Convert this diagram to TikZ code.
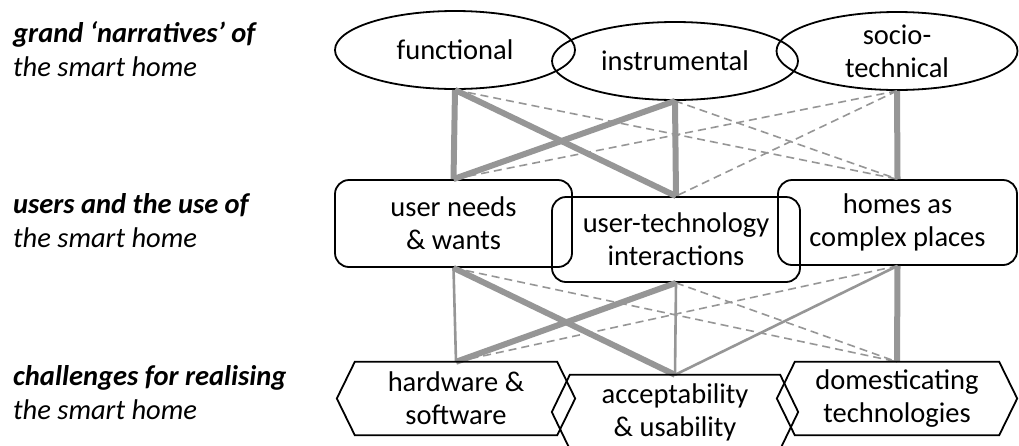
\documentclass[tikz,border=0pt]{standalone}
\usepackage{fontspec}
\setmainfont{Carlito}
\usetikzlibrary{shapes.geometric}
\definecolor{linkgray}{RGB}{150,150,150}
\newcommand\hexoutline[1]{\draw[outline] (#1.west) -- ([xshift=18pt]#1.north west) -- ([xshift=-18pt]#1.north east) -- (#1.east) -- ([xshift=-18pt]#1.south east) -- ([xshift=18pt]#1.south west) -- cycle;}
\begin{document}
\begin{tikzpicture}[x=1pt,y=-1pt,
  txt/.style={font=\fontsize{28.5}{33}\selectfont, align=center, inner sep=0pt},
  outline/.style={draw=black, line width=1.8pt},
  narr/.style={txt, ellipse, outline, minimum height=78pt},
  rbox/.style={txt, rectangle, rounded corners=14pt, outline},
  hexlabel/.style={txt, rectangle},
  side/.style={font=\fontsize{28.5}{33}\selectfont, anchor=base west, inner sep=0pt},
  strong/.style={draw=linkgray, line width=6pt},
  weak/.style={draw=linkgray, line width=2.6pt},
  loose/.style={draw=linkgray, line width=1.6pt, dash pattern=on 8pt off 5pt}
]
\useasboundingbox (0,0) rectangle (1019,445);

% left labels
\node[side] (l1a) at (13,42) {\bfseries\itshape grand ‘narratives’ of};
\node[side] (l1b) at (13,76) {\itshape the smart home};
\node[side] (l2a) at (13,213) {\bfseries\itshape users and the use of};
\node[side] (l2b) at (13,247) {\itshape the smart home};
\node[side] (l3a) at (13,385) {\bfseries\itshape challenges for realising};
\node[side] (l3b) at (13,419) {\itshape the smart home};

% top row
\node[narr, minimum width=240pt] (fun) at (455,50) {functional};
\node[narr, minimum width=246pt] (ins) at (675,61) {instrumental};
\node[narr, minimum width=241pt] (soc) at (897,51) {socio-\\technical};

% middle row
\node[rbox, minimum width=237pt, minimum height=87pt] (need) at (453.5,223.5) {user needs\\\& wants};
\node[rbox, minimum width=248pt, minimum height=85pt] (uti) at (676,239.5) {user-technology\\interactions};
\node[rbox, minimum width=239pt, minimum height=85pt] (home) at (897.5,222.5) {homes as\\complex places};

% bottom row
\node[hexlabel, minimum width=238pt, minimum height=73pt] (hw) at (456,398.5) {hardware \&\\software};
\node[hexlabel, minimum width=246pt, minimum height=74pt] (acc) at (675,412) {acceptability\\\& usability};
\node[hexlabel, minimum width=240pt, minimum height=73pt] (dom) at (897,398.5) {domesticating\\technologies};

% links top -> middle
\draw[loose] (fun.south) -- (home.north);
\draw[loose] (soc.south) -- (need.north);
\draw[loose] (ins.south) -- (home.north);
\draw[loose] (soc.south) -- (uti.north);
\draw[strong] (fun.south) -- (need.north);
\draw[strong] (fun.south) -- (uti.north);
\draw[strong] (ins.south) -- (need.north);
\draw[strong] (ins.south) -- (uti.north);
\draw[strong] (soc.south) -- (home.north);

% links middle -> bottom
\draw[loose] (need.south) -- (dom.north);
\draw[loose] (home.south) -- (hw.north);
\draw[loose] (uti.south) -- (dom.north);
\draw[weak] (need.south) -- (hw.north);
\draw[weak] (uti.south) -- (acc.north);
\draw[weak] (home.south) -- (acc.north);
\draw[strong] (need.south) -- (acc.north);
\draw[strong] (uti.south) -- (hw.north);
\draw[strong] (home.south) -- (dom.north);

% hexagon outlines
\hexoutline{hw}
\hexoutline{acc}
\hexoutline{dom}
\end{tikzpicture}
\end{document}
